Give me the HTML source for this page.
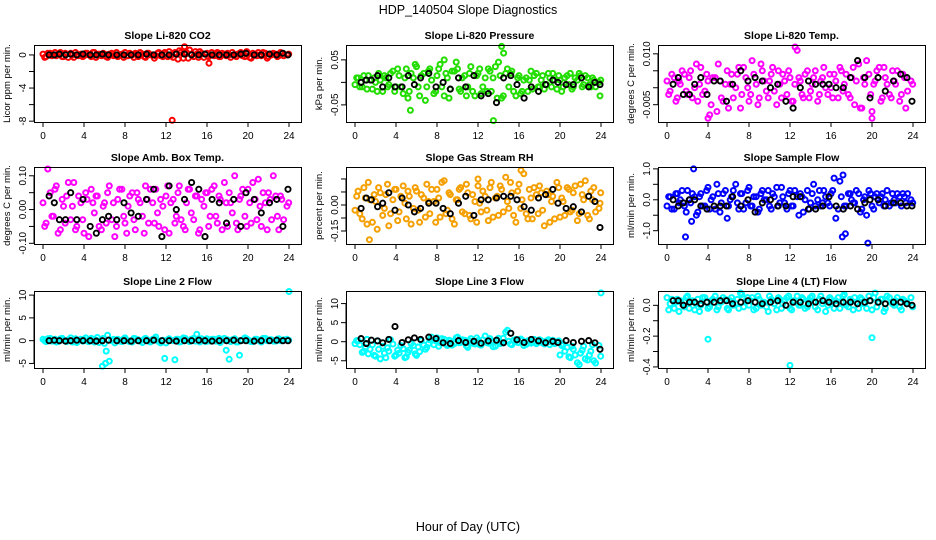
<!DOCTYPE html>
<html><head><meta charset="utf-8"><style>
html,body{margin:0;padding:0;background:#fff}
svg{display:block;font-family:"Liberation Sans",sans-serif}
</style></head><body>
<svg id="chart" width="936" height="540" viewBox="0 0 936 540" xmlns="http://www.w3.org/2000/svg">
<rect width="936" height="540" fill="#fff"/>
<text x="468" y="14" text-anchor="middle" font-size="12.5">HDP_140504  Slope Diagnostics</text>
<text x="468" y="531" text-anchor="middle" font-size="12.5">Hour of Day (UTC)</text>
</svg>
<script>
const hoursC=[0.0,0.3,0.7,1.0,1.3,1.7,2.0,2.3,2.7,3.0,3.3,3.7,4.0,4.3,4.7,5.0,5.3,5.7,6.0,6.3,6.7,7.0,7.3,7.7,8.0,8.3,8.7,9.0,9.3,9.7,10.0,10.3,10.7,11.0,11.3,11.7,12.0,12.3,12.7,13.0,13.3,13.7,14.0,14.3,14.7,15.0,15.3,15.7,16.0,16.3,16.7,17.0,17.3,17.7,18.0,18.3,18.7,19.0,19.3,19.7,20.0,20.3,20.7,21.0,21.3,21.7,22.0,22.3,22.7,23.0,23.3,23.8];
const hoursK=[0.6,1.1,1.6,2.2,2.7,3.3,3.9,4.6,5.2,5.8,6.4,7.2,7.9,8.6,9.3,10.1,10.8,11.6,12.3,13.0,13.8,14.5,15.2,15.8,16.5,17.2,17.9,18.6,19.3,19.8,20.6,21.3,22.1,22.8,23.4,23.9];
const xTicks=[0,4,8,12,16,20,24];

const co2A=[0.1,-0.2,0.2,0,-0.1,0.3,-0.2,0.1,0.2,-0.3,0,0.1,-0.1,0.2,-0.2,0.3,0,-0.1,0.1,-0.3,0.2,0,-0.2,0.1,0.3,-0.1,0,0.2,-0.2,0.1,-0.3,0.2,0,-0.1,0.3,-0.2,0.1,0.4,-0.3,0.2,0.5,-0.4,0.3,0.6,-0.2,0.1,0.4,-0.3,0.2,0,-0.1,0.3,-0.2,0.1,0.2,-0.3,0,0.1,0.3,-0.2,0.2,-0.4,0.1,0.3,-0.1,0.2,-0.2,0,0.1,-0.1,0.2,0];
const co2B=[-0.3,0.2,-0.1,0.3,0.1,-0.2,0.2,-0.3,0,0.3,-0.1,-0.2,0.2,0,0.3,-0.3,0.1,0.2,-0.2,0.1,-0.1,0.3,0,-0.3,-0.1,0.2,-0.3,0.1,0.3,-0.2,0.2,0,-0.4,0.2,-0.1,0.3,-0.2,-0.1,0.3,-0.5,0.3,0.2,-0.4,0.1,0.4,-0.3,0.2,0.1,-0.2,0.3,0.1,-0.2,0.2,-0.1,0,0.3,-0.2,0.2,-0.1,0.4,-0.3,0.2,-0.1,0,0.3,-0.4,0.1,0.2,-0.2,0.3,-0.1,0.1];
const co2K=[0,0,0.1,0,0.1,0,0.1,0,0,0.1,0,0,0,0,0,0.1,0,0,0,0.1,0.1,0,0,0.1,0,0,0,0,0.1,0.2,0,0,0.1,0,0.2,0];
const co2OutX=[12.6,13.8,16.2], co2OutY=[-7.9,1.0,-1.0];

const presA=[-0.005,0.01,-0.01,0.005,0.015,-0.015,0,0.02,-0.02,0.01,-0.005,0.025,-0.01,0.015,-0.025,0.03,-0.02,0.01,0.035,-0.03,0.02,-0.01,0.03,-0.025,0.015,0.04,-0.03,0.01,-0.015,0.025,0.03,-0.02,0.015,-0.01,0.035,-0.03,0.02,-0.025,0.01,0.03,-0.02,0.035,0.045,-0.035,0.02,-0.01,0.025,-0.03,0.015,-0.02,0.01,0.005,-0.015,0.02,-0.01,0.015,-0.005,0.01,0.02,-0.015,0.005,-0.01,0.015,0.02,-0.01,0.005,0.015,-0.005,0.01,-0.01,0.005,0];
const presB=[0.01,-0.01,0.015,-0.015,0.005,0.01,-0.02,0.005,0.015,-0.01,0.02,-0.02,0.03,-0.01,0.01,-0.035,0.02,0.04,-0.01,0.015,-0.04,0.025,0.005,-0.02,0.03,-0.01,0.02,-0.035,0.025,0.045,-0.015,0.01,-0.03,0.02,-0.02,0.015,0.03,-0.01,-0.02,0.025,0.01,-0.035,0.015,-0.03,0.03,0.02,-0.02,0.01,-0.025,0.005,-0.02,0.025,0.015,-0.01,0.005,-0.015,0.02,-0.01,0.005,0.015,-0.02,0.01,-0.005,-0.015,0.01,0.02,-0.01,0.015,-0.005,0.01,-0.01,0.005];
const presK=[0,0.005,0.005,0.015,-0.01,0.01,-0.01,-0.01,0.015,-0.005,0.01,0.02,-0.01,0,-0.015,0.01,-0.01,0.015,-0.03,-0.025,-0.045,0.01,0.015,-0.005,-0.035,-0.01,-0.02,-0.005,0.005,0,-0.005,-0.005,0.01,-0.01,0,-0.005];
const presOutX=[13.5,14.3,14.5,8.7,5.4,23.9], presOutY=[-0.085,0.08,0.065,0.05,-0.062,-0.03];

const tempA=[0.002,-0.001,0.003,-0.003,0.001,0.004,-0.002,0.005,0,-0.004,0.006,-0.001,0.002,-0.005,0.003,0.007,-0.003,0.001,-0.006,0.004,0,0.006,-0.002,0.003,-0.004,0.008,0.001,-0.003,0.005,-0.001,0.002,0.006,-0.005,0.001,0.004,-0.002,0.003,-0.004,0.011,0.002,-0.003,0.005,-0.001,0.003,-0.004,0.002,0.006,-0.002,0,0.004,-0.003,0.005,0.001,-0.002,0.003,-0.005,0.007,-0.006,0.001,0.004,-0.007,0.002,0.006,-0.003,0.003,-0.002,0.005,0.001,-0.004,0.004,-0.006,0.002];
const tempB=[-0.002,0.004,-0.004,0.002,0.005,-0.001,0.003,-0.003,0.007,0.001,-0.002,0.004,-0.008,0.003,-0.007,0.002,-0.004,0.005,0.001,-0.003,0.004,-0.006,0.006,0,-0.002,0.004,-0.005,0.007,0.002,-0.003,0.004,-0.001,0.005,-0.003,0.002,0.005,-0.004,0.001,0.003,-0.002,0.004,-0.003,0.001,0.005,-0.002,0.003,0,0.004,-0.003,0.002,0.006,-0.001,0.004,-0.003,0.006,0.002,-0.006,0.003,0.008,-0.002,0.001,0.005,-0.004,0.006,0.001,-0.003,0.002,0.005,-0.002,0.003,-0.001,0.001];
const tempK=[0.001,0.003,-0.002,-0.002,0.001,0.003,-0.002,0.002,0.002,-0.004,0.001,0.005,0.002,0.003,0.002,0,0.001,-0.004,-0.006,0,0.002,0.001,0.001,0.001,0,0,0.003,0.008,0.003,-0.003,0.003,-0.001,0.002,0.004,0.003,-0.004];
const tempOutX=[12.5,4.0,20.0], tempOutY=[0.012,-0.009,-0.009];

const ambA=[0.02,-0.04,0.05,-0.02,0.07,-0.06,0.01,0.04,-0.03,0.08,-0.05,0.02,-0.07,0.03,0.06,-0.01,0.04,-0.06,0.02,0.05,-0.03,-0.08,0.03,0.06,-0.04,0.01,0.05,-0.06,0.03,-0.02,0.07,-0.04,0.02,0.06,-0.05,0.01,0.04,-0.07,0.03,-0.02,0.07,-0.05,0.02,0.06,-0.03,0.04,-0.06,0.01,0.05,-0.02,0.07,-0.04,0.03,0.08,-0.05,0.02,0.1,-0.06,0.04,-0.02,0.06,-0.04,0.03,0.09,-0.05,0.02,0.05,-0.03,0.04,-0.06,0.03,0.01];
const ambB=[-0.05,0.12,-0.02,0.06,-0.07,0.03,-0.04,0.08,0.01,-0.06,0.04,-0.03,0.05,-0.08,0.02,0.04,-0.05,0.01,-0.04,0.07,0.02,-0.05,0.06,-0.02,-0.07,0.04,-0.03,0.05,0.02,-0.07,0.03,0.06,-0.04,-0.01,0.03,-0.06,0.07,0.02,-0.04,0.05,-0.03,-0.06,0.06,-0.01,0.04,-0.07,0.03,0.05,-0.05,0.06,-0.02,0.04,-0.06,0.02,0.05,-0.01,-0.04,0.03,0.06,-0.05,0.02,0.08,-0.03,0.01,0.05,-0.06,0.03,0.1,-0.02,0.04,-0.03,0.02];
const ambK=[0.04,0.02,-0.03,-0.03,0.05,-0.03,0.03,-0.05,-0.07,-0.03,-0.02,-0.03,0.02,-0.01,-0.02,0.03,0.06,-0.08,0.07,0,0.03,0.08,0.06,-0.08,0.03,0.02,-0.04,0.03,-0.05,0.05,0.03,-0.01,0.02,0.03,-0.05,0.06];
const ambOutX=[], ambOutY=[];

const rhA=[-0.03,0.08,-0.08,0.04,0.13,-0.1,0.02,0.1,-0.06,0.06,-0.12,0.03,0.09,-0.04,0.11,-0.08,0.05,-0.02,0.08,-0.1,0.04,0.12,-0.05,0.02,0.09,-0.07,0.14,-0.03,0.06,-0.11,0.03,0.1,-0.05,0.07,-0.08,0.02,0.11,-0.04,0.05,-0.09,0.13,0.04,-0.06,0.09,0.16,-0.02,0.07,-0.1,0.12,0.03,-0.05,0.09,-0.08,0.06,0.11,-0.03,0.08,-0.1,0.05,0.13,-0.07,0.02,0.1,-0.04,0.07,-0.09,0.12,0.03,-0.06,0.08,0.1,-0.02];
const rhB=[0.05,-0.05,0.1,-0.11,0.03,0.06,-0.14,0.07,-0.02,0.12,-0.05,0.09,-0.09,0.05,0.01,0.08,-0.11,0.1,-0.03,0.06,-0.07,0.02,0.09,-0.1,0.04,0.13,-0.05,0.07,-0.08,0.03,0.09,-0.04,0.12,-0.06,0.06,-0.1,0.01,0.08,-0.03,0.1,-0.07,0.05,0.11,-0.04,0.02,0.13,-0.06,0.08,-0.02,0.18,-0.08,0.04,0.1,-0.05,0.07,-0.12,0.06,0.02,-0.08,0.1,0.04,-0.06,0.09,-0.03,0.11,-0.05,0.06,0.14,-0.08,0.03,-0.04,0.07];
const rhK=[-0.02,0.04,0.03,-0.01,0.01,0.07,-0.03,0.04,0,-0.04,-0.02,0.01,0.01,-0.02,-0.05,0.01,0.05,-0.06,0.03,0.03,0.04,0.05,0.05,0.03,-0.01,-0.03,0.04,0.06,0.09,0.01,-0.02,-0.01,-0.04,0.05,0.02,-0.13];
const rhOutX=[1.4,16.2,12,23.9], rhOutY=[-0.2,0.2,0.15,0.01];

const sfA=[-0.2,0.1,-0.3,0.2,0,-0.2,0.3,-0.1,0.1,-0.4,0.2,-0.2,0.4,0,-0.3,0.2,-0.1,0.3,-0.2,0.1,0.5,-0.3,0.2,-0.1,0.4,-0.2,0.1,-0.3,0.3,0,-0.2,0.2,0.4,-0.1,0.1,-0.3,0.3,-0.2,0.1,0.2,-0.4,0.3,-0.1,0.5,0,-0.2,0.3,-0.1,0.2,0.7,-0.3,0.1,-0.2,0.2,0,-0.1,0.2,-0.3,0.1,0.3,-0.2,0.1,-0.1,0.2,0,-0.2,0.2,-0.1,0.1,0.2,-0.1,0];
const sfB=[0.1,-0.3,0.2,-0.1,0.3,-0.4,0,0.2,-0.5,0.1,-0.2,0.3,-0.3,0.1,0.5,-0.4,0.2,-0.6,0,0.3,-0.1,0.2,-0.3,0.3,-0.2,0.1,-0.4,0.2,0,0.3,-0.3,0.1,-0.2,0.4,-0.1,0.2,-0.2,0.3,-0.5,0.1,0,-0.3,0.2,-0.2,0.3,-0.1,0.1,-0.2,0.3,-0.6,0.6,0.8,-0.2,0.2,-0.1,0.3,-0.4,0,-0.5,0.2,-0.3,0.2,0.1,-0.2,0.3,-0.1,0,0.2,-0.2,0.1,0.2,-0.1];
const sfK=[0,-0.2,-0.1,0,0,-0.2,-0.3,-0.2,-0.2,-0.2,0.1,-0.2,0,-0.4,-0.1,0,-0.2,-0.2,0.1,0.1,-0.3,-0.3,-0.2,0.1,-0.2,-0.3,-0.2,-0.3,-0.1,0,0,-0.2,-0.1,-0.1,-0.2,-0.2];
const sfOutX=[2.6,1.8,17.1,17.4,19.6,2.4], sfOutY=[1.0,-1.2,-1.2,-1.1,-1.4,-0.7];

const l2A=[0.3,-0.2,0.5,0,-0.3,0.4,0.1,-0.2,0.6,0,-0.4,0.3,0.2,-0.1,0.5,-0.3,0.7,0.1,-0.6,1.2,0,-0.5,0.3,-0.2,0.6,0,-0.3,0.4,0.2,-0.4,0.5,-0.1,0.3,0.8,-0.2,0.1,-0.5,0.4,0,0.3,-0.3,0.6,0.1,-0.2,0.5,1.4,-0.3,0.2,0.4,-0.1,0.3,0,-0.4,0.5,0.2,-0.2,0.4,-0.3,0.1,0.6,0,-0.2,0.3,0.1,-0.3,0.5,0,0.2,-0.1,0.4,0,0.3];
const l2B=[0,0.4,-0.1,0.3,-0.2,0.5,0,0.2,-0.3,0.4,0.1,-0.1,0.6,-0.2,0.3,0.1,-0.4,0.5,-2.3,-4.5,0.3,0.2,-0.1,0.4,0,-0.2,0.5,0.1,-0.1,0.3,0.2,-0.3,0.4,0,-0.5,-3.9,0.2,0.1,-4.2,0.3,-0.2,0.5,0,0.3,-0.1,0.2,0.4,-0.2,0,0.3,-0.1,0.5,0.1,-2.1,-4.1,0.2,-0.3,-3.2,0.1,0.4,0,-0.2,0.3,-0.1,0.5,0,0.2,-0.1,0.3,0,0.2,0.1];
const l2K=[0,0.1,0,-0.1,0,0.1,0,0,-0.1,0,0.1,0,0,-0.1,0,0,0.1,0,0,-0.1,0,0,0.1,0,-0.1,0,0,0.1,0,0,-0.1,0,0,0.1,0,0];
const l2OutX=[24,5.8,6.1], l2OutY=[10.8,-5.6,-5.0];

const l3A=[-0.5,0.2,-2.8,-1.5,-3.2,-0.8,-3.8,-2.0,-1.2,-4.2,-2.5,-0.6,-3.5,-3.0,-1.8,-4.0,-2.2,-1.0,-3.6,-2.6,-0.9,-1.5,0.5,-0.8,1.0,-0.3,0.6,-1.0,0.2,-0.5,1.2,-0.2,0.4,-1.5,0.8,-0.6,0.3,-0.9,1.5,-0.4,0.2,-1.2,0.9,-0.3,2.5,0.1,-0.8,0.6,-0.2,0.4,-0.7,0.3,0,-0.5,0.5,-0.3,0.2,-0.8,0.4,-0.1,-3.5,-0.6,-1.5,-4.2,-2.0,-5.5,-3.0,-1.2,-4.8,-2.5,-5.0,-1.0];
const l3B=[0.3,-0.8,-2.5,0.6,-2.0,-3.6,0.2,-4.5,-3.0,-1.6,0.5,-3.8,-2.2,-1.0,-4.2,-2.8,-0.5,-3.2,-1.4,0.3,-2.0,-0.5,1.2,0.2,-1.2,0.8,-0.6,0.4,-0.9,1.0,-0.3,0.5,-1.1,0.2,-0.4,1.0,-0.8,0.5,-0.2,0.8,-1.3,0.4,-0.5,0.9,3.0,-0.6,0.4,-0.2,0.7,-1.0,0.2,-0.4,0.6,-0.2,0.3,-0.6,0.5,-0.1,-0.5,0.2,-1.0,-2.5,-4.0,-1.2,-3.5,-6.0,-2.2,-4.5,-3.5,-0.8,-5.6,-3.8];
const l3K=[0.8,-0.5,0.4,0.2,-0.3,0.6,4.0,-0.2,0.5,1.0,0.6,1.2,0.8,-0.3,-0.5,0.3,-0.2,0.1,-0.4,0.2,0.4,-0.3,2.2,0.5,-0.2,0.6,0.2,-0.3,0.1,-0.2,0.3,-0.2,0.1,0.3,-0.3,-2.0];
const l3OutX=[24], l3OutY=[12.8];

const l4A=[0.05,0.01,-0.02,0.04,0.03,-0.01,0.06,0.02,-0.03,0.04,0,0.05,-0.02,0.03,0.06,-0.01,0.02,0.04,-0.03,0.05,0.01,-0.02,0.07,0.03,0,0.05,-0.02,0.04,0.02,-0.01,0.06,0.03,-0.03,0.04,0.01,0.05,-0.02,0.03,0.06,0,0.04,-0.01,0.05,0.02,-0.03,0.06,0.03,0,0.04,-0.02,0.05,0.02,0.07,-0.01,0.03,0.05,-0.02,0.04,0.01,0.06,-0.03,0.08,0.02,0.04,-0.02,0.05,0.01,0.03,-0.01,0.04,0.02,0.05];
const l4B=[-0.03,0.04,0.02,-0.04,0.01,0.05,-0.02,0.03,0.01,-0.04,0.05,0.02,-0.01,0.04,-0.03,0.02,0.05,-0.02,0.03,0,0.04,0.08,-0.01,0.05,0.03,-0.03,0.06,0,0.02,-0.04,0.04,0.01,0.05,-0.02,0.03,0.06,-0.03,0.02,0,0.05,-0.02,0.03,0.06,-0.01,0.04,0.01,-0.04,0.05,0.02,0.03,-0.02,0.06,0,0.04,-0.03,0.02,0.05,0.01,-0.02,0.03,0.05,-0.01,0.04,-0.04,0.06,0.02,0,0.05,-0.03,0.03,0.01,-0.01];
const l4K=[0.03,0.03,0,0.02,0.02,0.01,0.02,0.02,0.03,0.03,0.01,0.02,0.03,0.02,0.01,0.02,0.03,0,0.02,0.02,0.01,0.02,0.03,0.02,0.01,0.02,0.02,0.01,0.02,0.03,0.02,0.01,0.02,0.02,0.01,0];
const l4OutX=[4,12,20], l4OutY=[-0.22,-0.39,-0.21];

const NS='http://www.w3.org/2000/svg';
const svg=document.getElementById('chart');
function mk(tag,attrs,parent){const e=document.createElementNS(NS,tag);for(const k in attrs)e.setAttribute(k,attrs[k]);(parent||svg).appendChild(e);return e;}

const cols=[34,346,658], rows=[45,167,291], boxW=267, boxH=77;
const panels=[
 {id:'co2',title:'Slope Li-820 CO2',ylab:'Licor ppm per min.',col:'#ff0000',ylim:[-8.1,1.2],ticks:[0,-2,-4,-6,-8],labs:['0','','-4','','-8'],A:co2A,B:co2B,K:co2K,ox:co2OutX,oy:co2OutY},
 {id:'pressure',title:'Slope Li-820 Pressure',ylab:'kPa per min.',col:'#22dd00',ylim:[-0.088,0.083],ticks:[0.05,0,-0.05],labs:['0.05','','-0.05'],A:presA,B:presB,K:presK,ox:presOutX,oy:presOutY},
 {id:'li820-temp',title:'Slope Li-820 Temp.',ylab:'degrees C per min.',col:'#ff00ff',ylim:[-0.0101,0.0126],ticks:[0.01,0.005,0,-0.005],labs:['0.010','','','-0.005'],A:tempA,B:tempB,K:tempK,ox:tempOutX,oy:tempOutY},
 {id:'amb-box-temp',title:'Slope Amb. Box Temp.',ylab:'degrees C per min.',col:'#ff00ff',ylim:[-0.102,0.126],ticks:[0.1,0.05,0,-0.05,-0.1],labs:['0.10','','0.00','','-0.10'],A:ambA,B:ambB,K:ambK,ox:ambOutX,oy:ambOutY},
 {id:'gas-stream-rh',title:'Slope Gas Stream RH',ylab:'percent per min.',col:'#f5a000',ylim:[-0.225,0.219],ticks:[0.15,0.075,0,-0.075,-0.15],labs:['','','0.00','','-0.15'],A:rhA,B:rhB,K:rhK,ox:rhOutX,oy:rhOutY},
 {id:'sample-flow',title:'Slope Sample Flow',ylab:'ml/min per min.',col:'#0000ff',ylim:[-1.43,1.06],ticks:[1,0.5,0,-0.5,-1],labs:['1.0','','0.0','','-1.0'],A:sfA,B:sfB,K:sfK,ox:sfOutX,oy:sfOutY},
 {id:'line2-flow',title:'Slope Line 2 Flow',ylab:'ml/min per min.',col:'#00ffff',ylim:[-6,10.9],ticks:[10,5,0,-5],labs:['10','5','0','-5'],A:l2A,B:l2B,K:l2K,ox:l2OutX,oy:l2OutY},
 {id:'line3-flow',title:'Slope Line 3 Flow',ylab:'ml/min per min.',col:'#00ffff',ylim:[-6.9,13.3],ticks:[10,5,0,-5],labs:['10','5','0','-5'],A:l3A,B:l3B,K:l3K,ox:l3OutX,oy:l3OutY},
 {id:'line4-flow',title:'Slope Line 4 (LT) Flow',ylab:'ml/min per min.',col:'#00ffff',ylim:[-0.407,0.093],ticks:[0,-0.1,-0.2,-0.3,-0.4],labs:['0.0','','-0.2','','-0.4'],A:l4A,B:l4B,K:l4K,ox:l4OutX,oy:l4OutY}
];

panels.forEach((p,i)=>{
  const L=cols[i%3], T=rows[Math.floor(i/3)], R=L+boxW, Bt=T+boxH;
  const g=mk('g',{});
  
  
  const xs=v=>L+9+(v)*(246/24);
  const ys=v=>Bt-(v-p.ylim[0])/(p.ylim[1]-p.ylim[0])*boxH;
  const t=mk('text',{x:(L+R)/2,y:T-6,'text-anchor':'middle','font-size':10.5,'font-weight':'bold'},g);
  t.textContent=p.title;
  
  
  const yl=mk('text',{x:0,y:0,transform:`translate(${L-24},${(T+Bt)/2}) rotate(-90)`,'text-anchor':'middle','font-size':9.5},g);
  yl.textContent=p.ylab;
  
  
  xTicks.forEach(v=>{
    const x=xs(v);
    mk('line',{x1:x,x2:x,y1:Bt,y2:Bt+5,stroke:'#000','stroke-width':1},g);
    const tl=mk('text',{x:x,y:Bt+17,'text-anchor':'middle','font-size':10},g);
    tl.textContent=v;
    
    
  });
  mk('line',{x1:xs(0),x2:xs(24),y1:Bt+0.5,y2:Bt+0.5,stroke:'#000'},g);
  p.ticks.forEach((v,j)=>{
    const y=ys(v);
    mk('line',{x1:L-5,x2:L,y1:y,y2:y,stroke:'#000'},g);
    if(p.labs[j]){
      const tl=mk('text',{x:0,y:0,transform:`translate(${L-8},${y}) rotate(-90)`,'text-anchor':'middle','font-size':10},g);
      tl.textContent=p.labs[j];
      
      
    }
  });
  mk('line',{x1:L,x2:L,y1:ys(p.ticks[0]),y2:ys(p.ticks[p.ticks.length-1]),stroke:'#000'},g);
  const drawPt=(x,y,c,r,sw,name)=>{
    const e=mk('circle',{cx:xs(x).toFixed(1),cy:ys(y).toFixed(1),r:r,fill:'none',stroke:c,'stroke-width':sw},g);
    
    
  };
  hoursC.forEach((h,k)=>{drawPt(h,p.A[k],p.col,2.5,2,'point-'+p.id);});
  hoursC.forEach((h,k)=>{drawPt(h+0.17,p.B[k],p.col,2.5,2,'point-'+p.id);});
  p.ox.forEach((h,k)=>{drawPt(h,p.oy[k],p.col,2.5,2,'outlier-'+p.id);});
  hoursK.forEach((h,k)=>{drawPt(h,p.K[k],'#000',2.6,1.9,'hourly-point-'+p.id);});
  const bx=mk('rect',{x:L+0.5,y:T+0.5,width:boxW,height:boxH,fill:'none',stroke:'#000','stroke-width':1},g);
  
  
});
</script>
</body></html>
